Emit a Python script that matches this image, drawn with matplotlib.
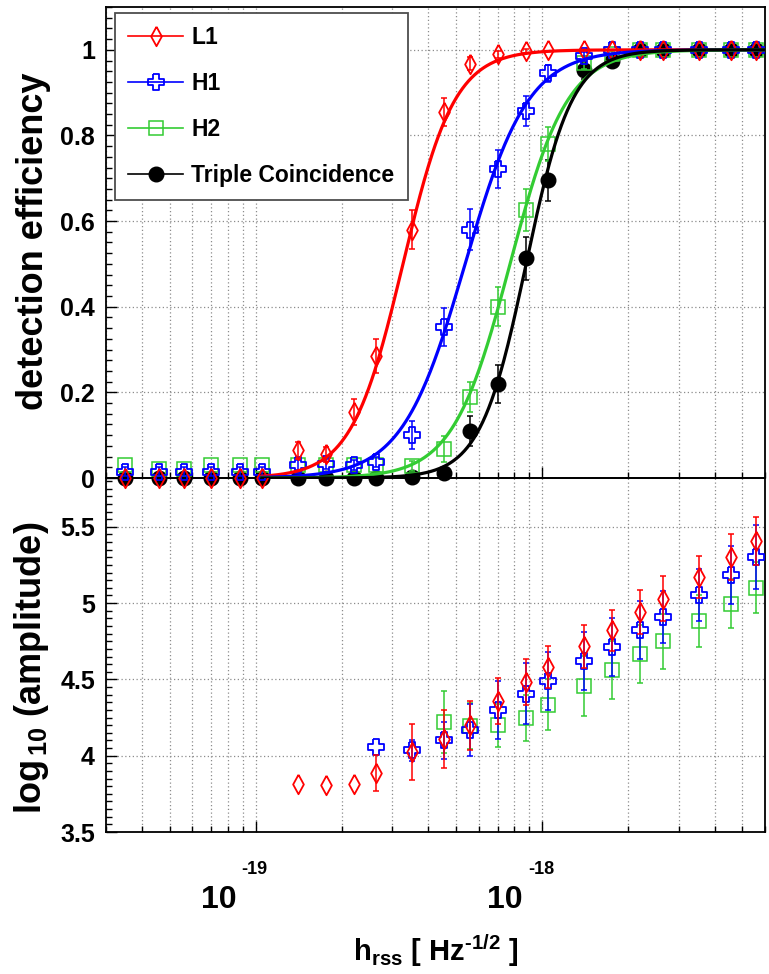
import numpy as np
import matplotlib
matplotlib.use('Agg')
import matplotlib.pyplot as plt
from matplotlib.path import Path
from matplotlib.lines import Line2D
from matplotlib.ticker import LogLocator, NullFormatter, MultipleLocator, FuncFormatter, FixedLocator
from matplotlib.transforms import ScaledTranslation, blended_transform_factory

# injected h_rss values (same for every detector)
hrss = [3.5e-20, 4.6e-20, 5.6e-20, 7.0e-20, 8.8e-20, 1.05e-19, 1.4e-19, 1.76e-19, 2.2e-19, 2.64e-19,
        3.52e-19, 4.56e-19, 5.62e-19, 7.03e-19, 8.8e-19, 1.05e-18, 1.4e-18, 1.76e-18, 2.2e-18, 2.64e-18,
        3.52e-18, 4.56e-18, 5.6e-18]

# detection efficiency
eff_l1 = [0, 0, 0, 0, 0, 0, 0.065, 0.055, 0.154, 0.285, 0.58, 0.855, 0.968, 0.99, 0.997, 1.0,
          1, 1, 1, 1, 1, 1, 1]
err_l1 = [0, 0, 0, 0, 0, 0, 0.02, 0.018, 0.03, 0.04, 0.045, 0.033, 0.015, 0.008, 0.004, 0,
          0, 0, 0, 0, 0, 0, 0]
eff_h1 = [0.015, 0.015, 0.015, 0.015, 0.015, 0.015, 0.03, 0.033, 0.03, 0.037, 0.10, 0.353, 0.58, 0.722,
          0.858, 0.945, 0.985, 1.0, 1, 1, 1, 1, 1]
err_h1 = [0.01, 0.01, 0.01, 0.01, 0.01, 0.01, 0.012, 0.012, 0.012, 0.012, 0.032, 0.045, 0.048, 0.045,
          0.035, 0.02, 0.01, 0, 0, 0, 0, 0, 0]
eff_h2 = [0.03, 0.02, 0.02, 0.03, 0.03, 0.03, 0.03, 0.03, 0.03, 0.03, 0.028, 0.068, 0.19, 0.40,
          0.626, 0.78, 0.97, 0.99, 1, 1, 1, 1, 1]
err_h2 = [0, 0, 0, 0, 0, 0, 0, 0, 0, 0, 0.012, 0.03, 0.035, 0.045,
          0.048, 0.04, 0.015, 0.008, 0, 0, 0, 0, 0]
eff_tc = [0, 0, 0, 0, 0, 0, 0, 0, 0, 0, 0.003, 0.012, 0.11, 0.22,
          0.513, 0.695, 0.952, 0.975, 1, 1, 1, 1, 1]
err_tc = [0, 0, 0, 0, 0, 0, 0, 0, 0, 0, 0.005, 0.01, 0.035, 0.045,
          0.05, 0.048, 0.02, 0.015, 0, 0, 0, 0, 0]

# sigmoid fit parameters: log10(h50), width in decades
fit_log_h50 = [-18.486, -18.269, -18.112, -18.056]
fit_width = [0.09, 0.11, 0.10, 0.08]

# log10 of amplitude (nan = no entry)
nan = np.nan
amp_l1 = [nan, nan, nan, nan, nan, nan, 3.817, 3.81, 3.817, 3.887, 4.025, 4.112, 4.20, 4.359,
          4.484, 4.582, 4.717, 4.822, 4.943, 5.03, 5.172, 5.303, 5.408]
aerr_l1 = [0, 0, 0, 0, 0, 0, 0, 0, 0, 0.12, 0.185, 0.19, 0.16, 0.15,
           0.15, 0.135, 0.14, 0.135, 0.145, 0.145, 0.14, 0.15, 0.155]
amp_h1 = [nan, nan, nan, nan, nan, nan, nan, nan, nan, 4.057, 4.035, 4.101, 4.171, 4.302,
          4.407, 4.488, 4.619, 4.713, 4.827, 4.91, 5.052, 5.183, 5.303]
aerr_h1 = [0, 0, 0, 0, 0, 0, 0, 0, 0, 0, 0.07, 0.12, 0.17, 0.19,
           0.2, 0.19, 0.19, 0.19, 0.19, 0.17, 0.17, 0.19, 0.21]
amp_h2 = [nan, nan, nan, nan, nan, nan, nan, nan, nan, nan, nan, 4.221, 4.193, 4.2,
          4.248, 4.335, 4.457, 4.56, 4.669, 4.75, 4.881, 4.997, 5.102]
aerr_h2 = [0, 0, 0, 0, 0, 0, 0, 0, 0, 0, 0, 0.2, 0.15, 0.14,
           0.15, 0.165, 0.195, 0.19, 0.19, 0.18, 0.17, 0.16, 0.165]

labels = ['L1', 'H1', 'H2', 'Triple Coincidence']
colors = ['#ff0000', '#0000ff', '#33cc33', '#000000']
x_major = [1e-19, 1e-18]

plt.rcParams['font.family'] = ['Liberation Sans', 'DejaVu Sans']
plt.rcParams['font.weight'] = 'bold'
plt.rcParams['mathtext.fontset'] = 'custom'
plt.rcParams['mathtext.rm'] = 'Liberation Sans:bold'
plt.rcParams['mathtext.bf'] = 'Liberation Sans:bold'
plt.rcParams['mathtext.it'] = 'Liberation Sans:bold'
plt.rcParams['axes.unicode_minus'] = False

# marker shapes
diamond = Path([(0, 1), (0.55, 0), (0, -1), (-0.55, 0), (0, 1)])
a = 0.33
cross = Path([(-a, 1), (a, 1), (a, a), (1, a), (1, -a), (a, -a), (a, -1), (-a, -1),
              (-a, -a), (-1, -a), (-1, a), (-a, a), (-a, 1)])
markers = [dict(marker=diamond, ms=14, mfc='none', mew=1.3),
           dict(marker=cross, ms=12, mfc='none', mew=1.3),
           dict(marker='s', ms=10.5, mfc='none', mew=1.1),
           dict(marker='o', ms=10.5, mfc='black', mew=1.0)]

fig = plt.figure(figsize=(7.69, 9.74), dpi=100)
ax1 = fig.add_axes([106 / 769, 1 - 478 / 974, 659 / 769, 471 / 974])
ax2 = fig.add_axes([106 / 769, 1 - 832 / 974, 659 / 769, 354 / 974])
ax1.set_zorder(2)
ax1.patch.set_alpha(0)

x = np.array(hrss)
effs = [eff_l1, eff_h1, eff_h2, eff_tc]
errs = [err_l1, err_h1, err_h2, err_tc]
amps = [amp_l1, amp_h1, amp_h2]
aerrs = [aerr_l1, aerr_h1, aerr_h2]

# fit curves
xs = np.logspace(np.log10(1.05e-19), np.log10(6e-18), 500)
for k in range(4):
	ys = 1.0 / (1.0 + np.exp(-(np.log10(xs) - fit_log_h50[k]) / fit_width[k]))
	ax1.plot(xs, ys, color=colors[k], lw=2.3, zorder=4)

# data points: triple first, then H2, H1, L1 on top
for k in [3, 2, 1, 0]:
	y = np.array(effs[k])
	e = np.array(errs[k])
	m = e > 0
	ax1.errorbar(x[m], y[m], yerr=e[m], fmt='none', ecolor=colors[k], elinewidth=1.1,
	             capsize=2.5, capthick=1.1, zorder=3 + 0.1 * (3 - k), clip_on=False)
	ax1.plot(x, y, ls='none', color=colors[k], zorder=3 + 0.1 * (3 - k), clip_on=False, **markers[k])

for k in [2, 1, 0]:
	y = np.array(amps[k])
	e = np.array(aerrs[k])
	m = (e > 0) & ~np.isnan(y)
	ax2.errorbar(x[m], y[m], yerr=e[m], fmt='none', ecolor=colors[k], elinewidth=1.1,
	             capsize=2.5, capthick=1.1, zorder=3 + 0.1 * (3 - k))
	ax2.plot(x, y, ls='none', color=colors[k], zorder=3 + 0.1 * (3 - k), **markers[k])

for ax in (ax1, ax2):
	ax.set_xscale('log')
	ax.set_xlim(3e-20, 6e-18)
	ax.xaxis.set_major_locator(FixedLocator(x_major))
	ax.xaxis.set_minor_locator(LogLocator(base=10, subs=range(2, 10)))
	ax.xaxis.set_minor_formatter(NullFormatter())
	ax.tick_params(which='both', direction='in', top=False, right=False, width=1.0)
	ax.tick_params(which='major', length=8, labelsize=18, pad=8)
	ax.tick_params(which='minor', length=4)
	ax.grid(True, which='major', axis='both', color='0.55', ls=(0, (1, 2)), lw=0.9)
	ax.grid(True, which='minor', axis='x', color='0.55', ls=(0, (1, 2)), lw=0.9)
	for s in ax.spines.values():
		s.set_linewidth(1.3)
	ax.yaxis.set_major_formatter(FuncFormatter(lambda v, p: f'{v:g}'))

ax1.set_ylim(0, 1.1)
ax1.yaxis.set_major_locator(FixedLocator([0, 0.2, 0.4, 0.6, 0.8, 1.0]))
ax1.yaxis.set_minor_locator(MultipleLocator(0.025))
ax1.tick_params(axis='x', labelbottom=False)

ax2.set_ylim(3.5, 5.82)
ax2.yaxis.set_major_locator(FixedLocator([3.5, 4.0, 4.5, 5.0, 5.5]))
ax2.yaxis.set_minor_locator(MultipleLocator(0.05))

# x tick labels in ROOT style: "10" with a small raised exponent
ax2.tick_params(axis='x', which='major', labelsize=23, pad=38)
ax2.xaxis.set_major_formatter(FuncFormatter(lambda v, p: '10'))
shift = ScaledTranslation(-37 / 100, 0, fig.dpi_scale_trans)
for t in ax2.get_xticklabels():
	t.set_transform(t.get_transform() + shift)
btr = blended_transform_factory(ax2.transData, ax2.transAxes)
for v in x_major:
	ax2.text(v, 0, '-%d' % round(-np.log10(v)), fontsize=13, fontweight='bold', ha='left', va='bottom',
	         transform=btr + ScaledTranslation(-14 / 100, -46 / 100, fig.dpi_scale_trans))

ax1.set_ylabel('detection efficiency', fontsize=26, fontweight='bold')
ax1.yaxis.set_label_coords(-0.083, 0.503)
ax2.set_ylabel(r'log$_{\,10}$ (amplitude)', fontsize=26, fontweight='bold')
ax2.yaxis.set_label_coords(-0.083, 0.465)
ax2.set_xlabel(r'h$_{\mathbf{rss}}$ [ Hz$^{\mathbf{\text{-}1/2}}$ ]', fontsize=21, fontweight='bold')
ax2.xaxis.set_label_coords(0.5, -0.285)

handles = [Line2D([0], [0], color=colors[k], lw=1.2, **markers[k]) for k in range(4)]
leg = ax1.legend(handles, labels, loc='upper left', bbox_to_anchor=(0.0137, 0.987),
                 borderaxespad=0, fancybox=False, framealpha=1, edgecolor='0.3',
                 prop={'weight': 'bold', 'size': 16.5},
                 handlelength=2.4, handletextpad=0.35, labelspacing=1.0, borderpad=0.58)
leg.get_frame().set_linewidth(1.3)
leg.set_zorder(10)

fig.savefig('out.png', dpi=100)
